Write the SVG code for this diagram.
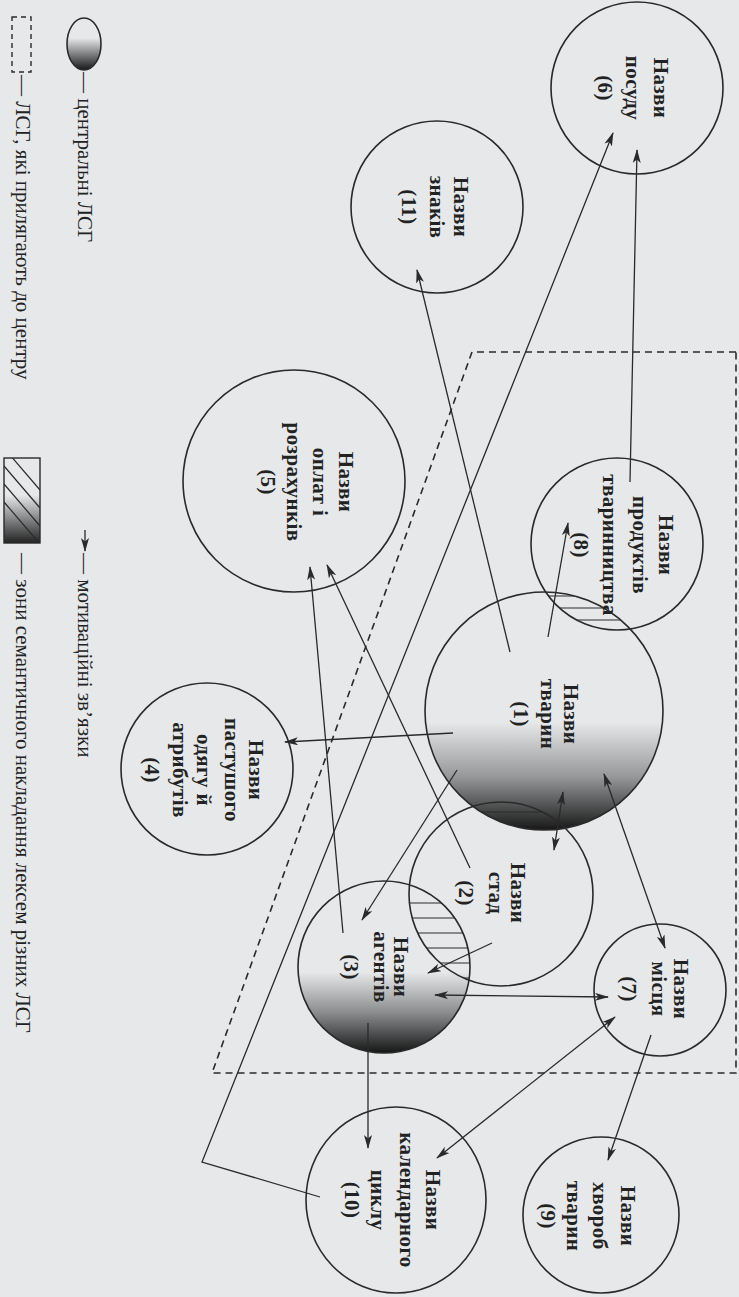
<svg xmlns="http://www.w3.org/2000/svg" width="739" height="1297" viewBox="0 0 739 1297">
<style>
.bg{fill:#e6e8ea}
.node{fill:none;stroke:#2a2a2a;stroke-width:1.6}
.lbl{font-family:"Liberation Serif","DejaVu Serif",serif;font-weight:bold;font-size:21px;letter-spacing:0.4px;fill:#222;text-anchor:middle}
.leg{font-family:"Liberation Serif","DejaVu Serif",serif;font-size:21px;fill:#222}
.con{fill:none;stroke:#2a2a2a;stroke-width:1.3}
.arr{marker-end:url(#ah)}
.dbl{marker-start:url(#ah);marker-end:url(#ah)}
.dash{fill:none;stroke:#2a2a2a;stroke-width:1.6;stroke-dasharray:7 5}
.hatch{stroke:#2a2a2a;stroke-width:1.2}
</style>
<defs>
<marker id="ah" viewBox="0 0 14 8" refX="13" refY="4" markerWidth="14" markerHeight="8" orient="auto-start-reverse" markerUnits="userSpaceOnUse">
<path d="M0,0 L14,4 L0,8 L3.5,4 Z" fill="#2a2a2a"/>
</marker>
<linearGradient id="g1" gradientUnits="userSpaceOnUse" x1="0" y1="722" x2="0" y2="832">
<stop offset="0" stop-color="#000" stop-opacity="0"/>
<stop offset="0.5" stop-color="#000" stop-opacity="0.35"/>
<stop offset="1" stop-color="#000" stop-opacity="0.92"/>
</linearGradient>
<linearGradient id="g3" gradientUnits="userSpaceOnUse" x1="0" y1="972" x2="0" y2="1054">
<stop offset="0" stop-color="#000" stop-opacity="0"/>
<stop offset="0.5" stop-color="#000" stop-opacity="0.4"/>
<stop offset="1" stop-color="#000" stop-opacity="0.92"/>
</linearGradient>
<linearGradient id="gl" gradientUnits="userSpaceOnUse" x1="0" y1="38" x2="0" y2="70">
<stop offset="0" stop-color="#000" stop-opacity="0"/>
<stop offset="1" stop-color="#000" stop-opacity="0.9"/>
</linearGradient>
<linearGradient id="gr" gradientUnits="userSpaceOnUse" x1="0" y1="495" x2="0" y2="543">
<stop offset="0" stop-color="#000" stop-opacity="0"/>
<stop offset="1" stop-color="#000" stop-opacity="0.85"/>
</linearGradient>
<clipPath id="c1"><circle cx="544" cy="711" r="119"/></clipPath>
<clipPath id="c2"><circle cx="501" cy="894" r="92"/></clipPath>
<clipPath id="c3"><circle cx="384" cy="967" r="86"/></clipPath>
<clipPath id="c8"><circle cx="617" cy="544" r="86"/></clipPath>
<clipPath id="cr"><rect x="4" y="458" width="36" height="85"/></clipPath>
</defs>
<rect class="bg" x="0" y="0" width="739" height="1297"/>

<g id="legend">
<rect x="12" y="17" width="19" height="55" fill="none" stroke="#2a2a2a" stroke-width="1.4" stroke-dasharray="5 4"/>
<text class="leg" transform="translate(16,75) rotate(90)">— ЛСГ, які прилягають до центру</text>
<ellipse cx="84" cy="44" rx="17" ry="26" fill="url(#gl)"/>
<ellipse cx="84" cy="44" rx="17" ry="26" class="node"/>
<text class="leg" transform="translate(78,72) rotate(90)">— центральні ЛСГ</text>
<g clip-path="url(#cr)">
<rect x="4" y="458" width="36" height="85" fill="url(#gr)"/>
<path class="hatch" d="M4,448 L40,490 M4,466 L40,508 M4,484 L40,526 M4,502 L40,544"/>
</g>
<rect x="4" y="458" width="36" height="85" fill="none" stroke="#2a2a2a" stroke-width="1.4"/>
<text class="leg" transform="translate(16,553) rotate(90)">— зони семантичного накладання лексем різних ЛСГ</text>
<line class="con arr" x1="85" y1="530" x2="85" y2="551"/>
<text class="leg" transform="translate(78,553) rotate(90)">— мотиваційні зв’язки</text>
</g>

<g id="zone">
<path class="dash" d="M736,352 L472,352 L212,1073 L736,1073 Z"/>
</g>

<g id="overlaps">
<g clip-path="url(#c1)"><g clip-path="url(#c8)">
<path class="hatch" d="M520,596 H720 M520,608 H720 M520,620 H720"/>
</g></g>
<g clip-path="url(#c2)"><g clip-path="url(#c3)">
<path class="hatch" d="M380,903 H480 M380,918 H480 M380,933 H480 M380,948 H480 M380,963 H480 M380,978 H480"/>
</g></g>
</g>

<g id="n1">
<circle cx="544" cy="711" r="119" fill="url(#g1)"/>
<circle class="node" cx="544" cy="711" r="119"/>
<g clip-path="url(#c1)"><g clip-path="url(#c2)">
<path class="hatch" d="M420,812 H620 M420,824 H620"/>
</g></g>
<text class="lbl" transform="translate(564,714) rotate(90)">Назви</text>
<text class="lbl" transform="translate(541,714) rotate(90)">тварин</text>
<text class="lbl" transform="translate(514,714) rotate(90)">(1)</text>
</g>
<g id="n2">
<circle class="node" cx="501" cy="894" r="92"/>
<text class="lbl" transform="translate(511,893) rotate(90)">Назви</text>
<text class="lbl" transform="translate(489,893) rotate(90)">стад</text>
<text class="lbl" transform="translate(459,893) rotate(90)">(2)</text>
</g>
<g id="n3">
<circle cx="384" cy="967" r="86" fill="url(#g3)"/>
<circle class="node" cx="384" cy="967" r="86"/>
<text class="lbl" transform="translate(394,967) rotate(90)">Назви</text>
<text class="lbl" transform="translate(374,967) rotate(90)">агентів</text>
<text class="lbl" transform="translate(344,967) rotate(90)">(3)</text>
</g>
<g id="n4">
<circle class="node" cx="207" cy="769" r="86"/>
<text class="lbl" transform="translate(249,770) rotate(90)">Назви</text>
<text class="lbl" transform="translate(225,770) rotate(90)">пастушого</text>
<text class="lbl" transform="translate(197,770) rotate(90)">одягу й</text>
<text class="lbl" transform="translate(173,770) rotate(90)">атрибутів</text>
<text class="lbl" transform="translate(145,770) rotate(90)">(4)</text>
</g>
<g id="n5">
<circle class="node" cx="294" cy="481" r="111"/>
<text class="lbl" transform="translate(339,482) rotate(90)">Назви</text>
<text class="lbl" transform="translate(313,482) rotate(90)">оплат і</text>
<text class="lbl" transform="translate(287,482) rotate(90)">розрахунків</text>
<text class="lbl" transform="translate(261,482) rotate(90)">(5)</text>
</g>
<g id="n6">
<circle class="node" cx="637" cy="88" r="86"/>
<text class="lbl" transform="translate(654,88) rotate(90)">Назви</text>
<text class="lbl" transform="translate(626,88) rotate(90)">посуду</text>
<text class="lbl" transform="translate(598,88) rotate(90)">(6)</text>
</g>
<g id="n7">
<circle class="node" cx="660" cy="990" r="66"/>
<text class="lbl" transform="translate(674,989) rotate(90)">Назви</text>
<text class="lbl" transform="translate(652,989) rotate(90)">місця</text>
<text class="lbl" transform="translate(622,989) rotate(90)">(7)</text>
</g>
<g id="n8">
<circle class="node" cx="617" cy="544" r="86"/>
<text class="lbl" transform="translate(659,545) rotate(90)">Назви</text>
<text class="lbl" transform="translate(633,545) rotate(90)">продуктів</text>
<text class="lbl" transform="translate(603,545) rotate(90)">тваринництва</text>
<text class="lbl" transform="translate(574,545) rotate(90)">(8)</text>
</g>
<g id="n9">
<circle class="node" cx="601" cy="1215" r="78"/>
<text class="lbl" transform="translate(621,1216) rotate(90)">Назви</text>
<text class="lbl" transform="translate(593,1216) rotate(90)">хвороб</text>
<text class="lbl" transform="translate(567,1216) rotate(90)">тварин</text>
<text class="lbl" transform="translate(541,1216) rotate(90)">(9)</text>
</g>
<g id="n10">
<ellipse class="node" cx="396" cy="1200" rx="90" ry="93"/>
<text class="lbl" transform="translate(426,1200) rotate(90)">Назви</text>
<text class="lbl" transform="translate(400,1200) rotate(90)">календарного</text>
<text class="lbl" transform="translate(371,1200) rotate(90)">циклу</text>
<text class="lbl" transform="translate(345,1200) rotate(90)">(10)</text>
</g>
<g id="n11">
<circle class="node" cx="437" cy="207" r="86"/>
<text class="lbl" transform="translate(454,207) rotate(90)">Назви</text>
<text class="lbl" transform="translate(430,207) rotate(90)">знаків</text>
<text class="lbl" transform="translate(402,207) rotate(90)">(11)</text>
</g>

<g id="connectors">
<line class="con arr" x1="510" y1="652" x2="417" y2="270"/>
<polyline class="con arr" points="320,1197 202,1162 613,133"/>
<line class="con arr" x1="630" y1="482" x2="637" y2="150"/>
<line class="con arr" x1="548" y1="637" x2="568" y2="523"/>
<line class="con arr" x1="343" y1="933" x2="310" y2="567"/>
<line class="con arr" x1="470" y1="868" x2="327" y2="565"/>
<line class="con arr" x1="453" y1="733" x2="285" y2="742"/>
<line class="con arr" x1="457" y1="770" x2="362" y2="920"/>
<line class="con arr" x1="492" y1="943" x2="428" y2="973"/>
<line class="con dbl" x1="435" y1="995" x2="608" y2="997"/>
<line class="con arr" x1="368" y1="1023" x2="368" y2="1148"/>
<line class="con dbl" x1="615" y1="1017" x2="437" y2="1158"/>
<line class="con arr" x1="651" y1="1035" x2="608" y2="1160"/>
<line class="con dbl" x1="604" y1="774" x2="665" y2="948"/>
<line class="con dbl" x1="563" y1="792" x2="554" y2="850"/>
</g>
</svg>
